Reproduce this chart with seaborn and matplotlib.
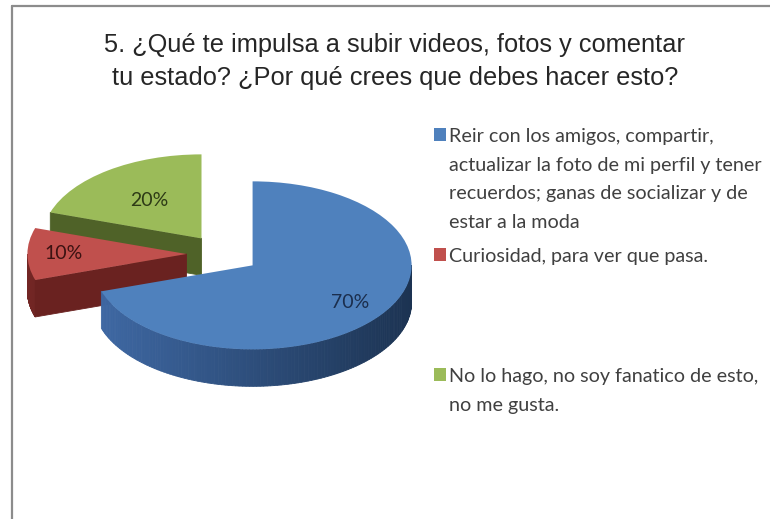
import numpy as np
import matplotlib
matplotlib.use("Agg")
import matplotlib.pyplot as plt
from matplotlib.patches import Polygon, Rectangle
from matplotlib.lines import Line2D
from matplotlib.colors import to_rgb
import seaborn as sns

# ── data ──────────────────────────────────────────────────────────────
title_lines = [
    "5. ¿Qué te impulsa a subir videos, fotos y comentar",
    "tu estado? ¿Por qué crees que debes hacer esto?",
]
answers = [
    "Reir con los amigos, compartir,\nactualizar la foto de mi perfil y tener\n"
    "recuerdos; ganas de socializar y de\nestar a la moda",
    "Curiosidad, para ver que pasa.",
    "No lo hago, no soy fanatico de esto,\nno me gusta.",
]
shares = [70, 10, 20]

# ── style ─────────────────────────────────────────────────────────────
top_colors = ["#4f81bd", "#c0504d", "#9bbb59"]
rim_light = ["#3f69a5", "#722624", "#5a7230"]
rim_dark = ["#1c3352", "#561b1a", "#46591f"]
face_colors = ["#2d5080", "#6a2220", "#4f6228"]
pct_colors = ["#1b2e4d", "#3b1212", "#2d3a16"]
pct_dist = [0.76, 0.77, 0.56]

W, H = 770, 519
RX, RY = 159, 84          # px per data unit (flattened 3D look)
CX, CY = 223, 254         # pie centre in px (from top-left)
DEPTH = 37 / RY           # slab thickness in data units

sns.set_theme(style="white")
plt.rcParams["font.family"] = ["Lato", "DejaVu Sans"]

fig = plt.figure(figsize=(W / 100, H / 100), dpi=100)
fig.patch.set_facecolor("white")

ax = fig.add_axes([(CX - 1.4 * RX) / W, (H - CY - 1.6 * RY) / H,
                   2.8 * RX / W, 3.0 * RY / H])
wedges, _, autotexts = ax.pie(
    shares, colors=top_colors, startangle=90, counterclock=False,
    explode=[0.23] * len(shares), autopct="%1.0f%%", pctdistance=0.7,
    wedgeprops=dict(linewidth=0),
)
ax.set_aspect("auto")
ax.set_xlim(-1.4, 1.4)
ax.set_ylim(-1.6, 1.4)
ax.axis("off")


def mix(c1, c2, u):
    a, b = np.array(to_rgb(c1)), np.array(to_rgb(c2))
    return tuple(a + (b - a) * u)


# back slices first, front slices last
mids = [np.deg2rad((w.theta1 + w.theta2) / 2) for w in wedges]
order = np.argsort([-np.sin(m) for m in mids])
for rank, i in enumerate(order):
    w = wedges[i]
    cx, cy = w.center
    zs, zt = 2 * rank + 1, 2 * rank + 2
    w.set_zorder(zt)

    # outer wall, only the front half is visible
    ts = np.linspace(np.deg2rad(w.theta1), np.deg2rad(w.theta2), 200)
    for a0, a1 in zip(ts[:-1], ts[1:]):
        if np.sin((a0 + a1) / 2) >= 0:
            continue
        u = (np.cos((a0 + a1) / 2) + 1) / 2
        col = mix(rim_light[i], rim_dark[i], u)
        pts = [(cx + np.cos(a0), cy + np.sin(a0)),
               (cx + np.cos(a1), cy + np.sin(a1)),
               (cx + np.cos(a1), cy + np.sin(a1) - DEPTH),
               (cx + np.cos(a0), cy + np.sin(a0) - DEPTH)]
        ax.add_patch(Polygon(pts, closed=True, fc=col, ec=col, lw=0.6, zorder=zs))

    # cut faces of the exploded slice
    for ang, sgn in ((w.theta1, -1), (w.theta2, 1)):
        a = np.deg2rad(ang)
        if np.sin(a + sgn * np.pi / 2) < -1e-6:
            ex, ey = cx + np.cos(a), cy + np.sin(a)
            pts = [(cx, cy), (ex, ey), (ex, ey - DEPTH), (cx, cy - DEPTH)]
            ax.add_patch(Polygon(pts, closed=True, fc=face_colors[i],
                                 ec=face_colors[i], lw=0.6, zorder=zs))

for i, t in enumerate(autotexts):
    w = wedges[i]
    m = mids[i]
    t.set_position((w.center[0] + pct_dist[i] * np.cos(m),
                    w.center[1] + pct_dist[i] * np.sin(m)))
    t.set_color(pct_colors[i])
    t.set_fontsize(14)
    t.set_zorder(20)


def px(x, y):
    return x / W, 1 - y / H


# title
for k, line in enumerate(title_lines):
    fig.text(*px(395, 52 + 33 * k), line, ha="center", va="baseline",
             fontsize=18.3, color="#262626", family=["Liberation Sans", "DejaVu Sans"])

# legend (Excel spreads the entries over the full height)
for i, text in enumerate(answers):
    top = 128 + 120 * i
    fig.add_artist(Rectangle(px(434, top + 13), 12 / W, 13 / H,
                             transform=fig.transFigure, fc=top_colors[i], ec="none"))
    for k, line in enumerate(text.split("\n")):
        fig.text(*px(449, top + 14 + 28.7 * k), line, ha="left", va="baseline",
                 fontsize=14.2, color="#404040")

# chart frame, cropped on the right and bottom
fig.add_artist(Line2D([12 / W, 1], [1 - 6 / H] * 2, color="#8c8c8c", lw=1.6))
fig.add_artist(Line2D([12 / W] * 2, [0, 1 - 6 / H], color="#8c8c8c", lw=1.6))

fig.savefig("out.png", dpi=100)
